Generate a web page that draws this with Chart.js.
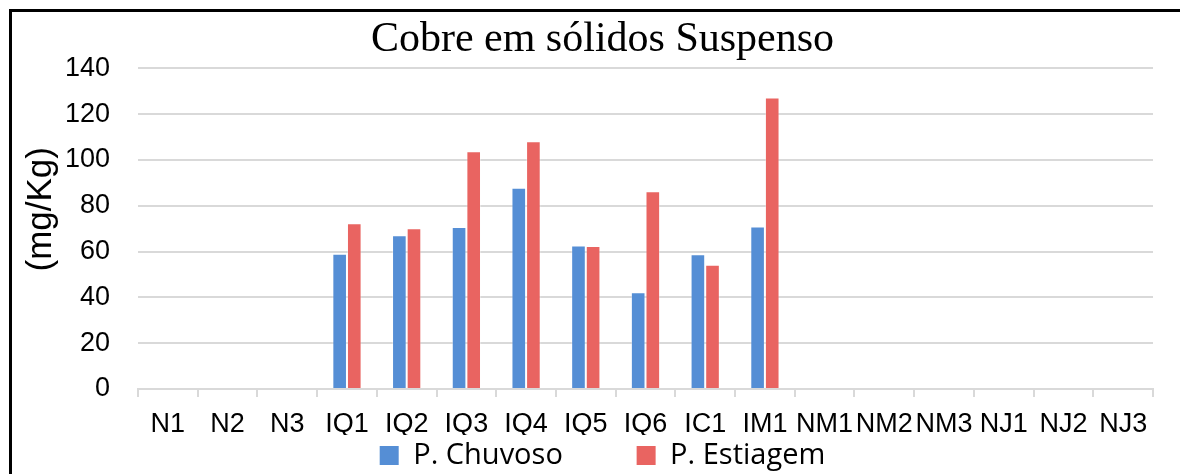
<!DOCTYPE html>
<html>
<head>
<meta charset="utf-8">
<script src="https://cdn.jsdelivr.net/npm/chart.js@4.4.0/dist/chart.umd.min.js"></script>
<style>
  html, body { margin: 0; padding: 0; background: #fff; overflow: hidden; }
  #wrap { position: relative; width: 1180px; height: 474px; overflow: hidden; }
  #myChart { position: absolute; left: 0; top: 0; }
</style>
</head>
<body>
<div id="wrap">
  <canvas id="myChart" width="1180" height="480"></canvas>
</div>
<script>
const categories = ['N1', 'N2', 'N3', 'IQ1', 'IQ2', 'IQ3', 'IQ4', 'IQ5', 'IQ6', 'IC1', 'IM1', 'NM1', 'NM2', 'NM3', 'NJ1', 'NJ2', 'NJ3'];
const chuvoso = [null, null, null, 59.1, 67.1, 70.7, 87.9, 62.7, 42.2, 58.8, 71.0, null, null, null, null, null, null];
const estiagem = [null, null, null, 72.4, 70.2, 103.8, 108.2, 62.4, 86.3, 54.3, 127.3, null, null, null, null, null, null];
const yTicks = [0, 20, 40, 60, 80, 100, 120, 140];

const ctx = document.getElementById('myChart').getContext('2d');
const grid = '#d9d9d9';

// black frame (left and top edges only, the rest is cut off in the original)
const frame = {
    id: 'frame',
    afterDraw(chart) {
        const c = chart.ctx;
        c.save();
        c.fillStyle = '#000';
        c.fillRect(9, 9, chart.width - 9, 3);
        c.fillRect(9, 9, 3, chart.height - 9);
        c.restore();
    }
};

new Chart(ctx, {
    type: 'bar',
    data: {
        labels: categories,
        datasets: [
            {
                label: 'P. Chuvoso',
                data: chuvoso,
                backgroundColor: '#558ed5',
                borderColor: 'rgba(255,255,255,0.35)',
                borderWidth: 1,
                categoryPercentage: 0.49,
                barPercentage: 1
            },
            {
                label: 'P. Estiagem',
                data: estiagem,
                backgroundColor: '#e96461',
                borderColor: 'rgba(255,255,255,0.35)',
                borderWidth: 1,
                categoryPercentage: 0.49,
                barPercentage: 1
            }
        ]
    },
    plugins: [frame],
    options: {
        responsive: false,
        animation: false,
        layout: { padding: { left: 52, right: 27, top: 0, bottom: 0 } },
        plugins: {
            title: {
                display: true,
                text: 'Cobre em sólidos Suspenso',
                color: '#000',
                font: { family: 'Liberation Serif', size: 42, weight: 'normal' },
                padding: { top: 15, bottom: 3 }
            },
            legend: {
                position: 'bottom',
                labels: {
                    color: '#000',
                    font: { family: 'Open Sans', size: 29 },
                    boxWidth: 19,
                    boxHeight: 19,
                    padding: 6,
                    // extra gap between the two entries
                    generateLabels: (chart) => {
                        const items = Chart.defaults.plugins.legend.labels.generateLabels(chart);
                        items.forEach((it, i) => {
                            it.lineWidth = 0;
                            if (i < items.length - 1) it.text = it.text + '         ';
                        });
                        return items;
                    }
                }
            },
            tooltip: { enabled: false }
        },
        scales: {
            x: {
                grid: { display: true, offset: true, drawOnChartArea: false, tickLength: 8, color: grid, lineWidth: 2 },
                border: { display: true, color: grid, width: 2 },
                ticks: {
                    color: '#000',
                    font: { family: 'Liberation Sans', size: 27 },
                    padding: 11,
                    maxRotation: 0,
                    autoSkip: false
                },
                afterFit: (scale) => { scale.height = 46; }
            },
            y: {
                min: 0,
                max: 140,
                afterBuildTicks: (scale) => { scale.ticks = yTicks.map(v => ({ value: v })); },
                grid: { color: grid, lineWidth: 2, drawTicks: false },
                border: { display: false },
                ticks: {
                    color: '#000',
                    font: { family: 'Liberation Sans', size: 27 },
                    padding: 28
                },
                title: {
                    display: true,
                    text: '    (mg/Kg)',
                    color: '#000',
                    font: { family: 'Liberation Sans', size: 35 },
                    padding: { top: -32, bottom: 0 }
                },
                afterFit: (scale) => { scale.width = 86; }
            }
        }
    }
});
</script>
</body>
</html>
